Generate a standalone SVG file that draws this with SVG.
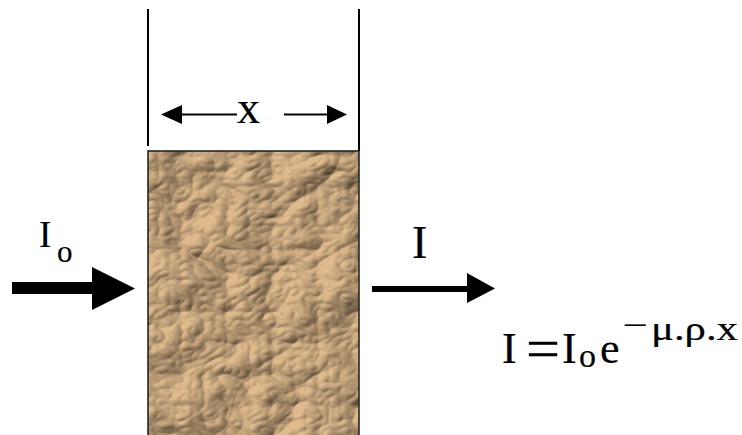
<svg xmlns="http://www.w3.org/2000/svg" width="742" height="435" viewBox="0 0 742 435">
  <style>
    .t { font-family: "Liberation Serif", "Times New Roman", serif; fill: #000; stroke: #000; stroke-width: 0.2; }
    .guide { stroke: #000; stroke-width: 2; fill: none; }
    .arrow { fill: #000; stroke: none; }
  </style>
  <defs>
    <filter id="crumple" x="0" y="0" width="100%" height="100%" filterUnits="objectBoundingBox" color-interpolation-filters="sRGB">
      <feTurbulence type="turbulence" baseFrequency="0.011 0.016" numOctaves="4" seed="31" result="noise"/>
      <feDiffuseLighting in="noise" surfaceScale="6" diffuseConstant="1.15" lighting-color="#ffffff" result="light">
        <feDistantLight azimuth="215" elevation="47"/>
      </feDiffuseLighting>
      <feComposite in="light" in2="SourceGraphic" operator="arithmetic" k1="1" k2="0" k3="0" k4="0"/>
    </filter>
  </defs>
  <rect width="742" height="435" fill="#fff"/>

  <g id="slab">
    <rect x="148" y="151" width="211" height="290" fill="#deba8c" filter="url(#crumple)"/>
    <rect x="148" y="151" width="211" height="290" fill="none" stroke="#1a1a1a" stroke-width="1.5"/>
  </g>

  <g id="guides">
    <line class="guide" x1="148" y1="9" x2="148" y2="146"/>
    <line class="guide" x1="359" y1="9" x2="359" y2="151"/>
  </g>

  <g id="connectors">
    <g id="thickness-arrow">
      <line x1="180" y1="114.5" x2="237" y2="114.5" stroke="#000" stroke-width="2"/>
      <polygon class="arrow" points="161,114.5 182,105 182,124"/>
      <line x1="284" y1="114.5" x2="329" y2="114.5" stroke="#000" stroke-width="2"/>
      <polygon class="arrow" points="347,114.5 327,105 327,124"/>
    </g>
    <g id="input-arrow">
      <polygon class="arrow" points="12,282 92,282 92,267 135,288.5 92,310 92,294 12,294"/>
    </g>
    <g id="output-arrow">
      <polygon class="arrow" points="372,286 467,286 467,273 495,288.5 467,303 467,292 372,292"/>
    </g>
  </g>

  <g id="label-x">
    <text class="t" x="237" y="123" font-size="46">x</text>
  </g>

  <g id="label-Io">
    <text class="t" x="39" y="247" font-size="37">I</text>
    <text class="t" x="57" y="262" font-size="31">o</text>
  </g>

  <g id="label-I">
    <text class="t" x="412" y="258" font-size="46">I</text>
  </g>

  <g id="formula">
    <text class="t" x="502" y="363" font-size="44">I</text>
    <text class="t" x="526" y="366" font-size="44" textLength="34" lengthAdjust="spacingAndGlyphs" transform="translate(0,-115) scale(1,1.32)">=</text>
    <text class="t" x="562" y="363" font-size="44">I</text>
    <text class="t" x="579" y="367" font-size="34">o</text>
    <text class="t" x="600" y="363" font-size="44">e</text>
    <text class="t" x="623" y="335" font-size="30" textLength="25" lengthAdjust="spacingAndGlyphs">−</text>
    <text class="t" x="651" y="340" font-size="33" textLength="87" lengthAdjust="spacingAndGlyphs">μ.ρ.x</text>
  </g>
</svg>
